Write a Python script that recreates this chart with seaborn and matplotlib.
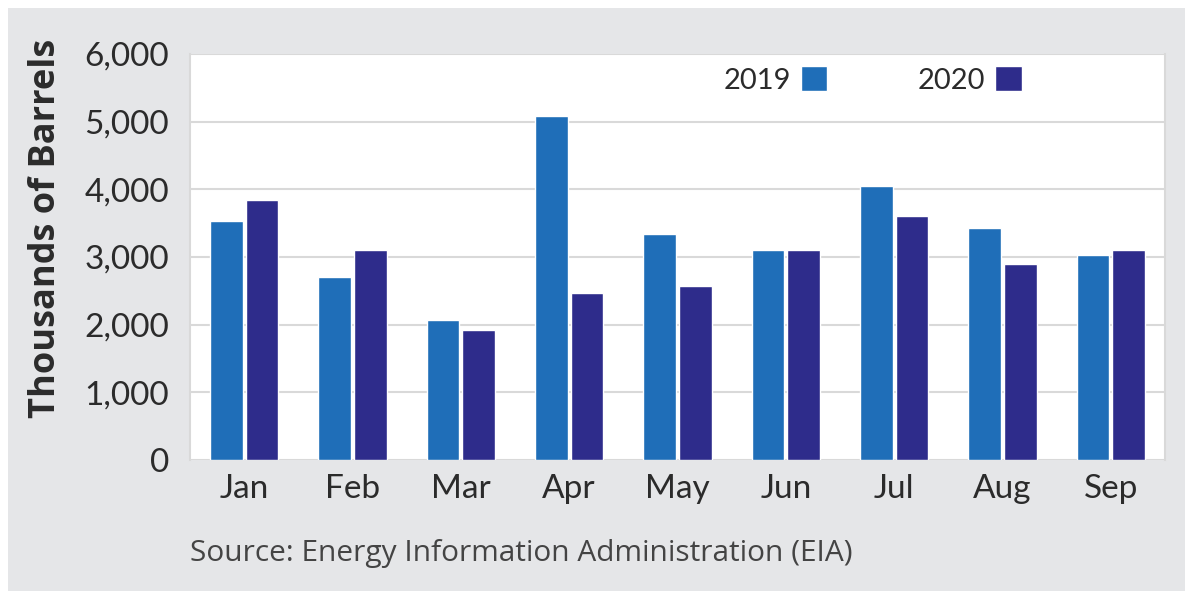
import numpy as np
import pandas as pd
import seaborn as sns
import matplotlib.pyplot as plt
from matplotlib.patches import Rectangle
from matplotlib.ticker import FuncFormatter

# Data (thousands of barrels)
months = ['Jan', 'Feb', 'Mar', 'Apr', 'May', 'Jun', 'Jul', 'Aug', 'Sep']
years = ['2019', '2020']
values_2019 = [3530, 2700, 2070, 5080, 3345, 3110, 4055, 3435, 3030]
values_2020 = [3840, 3110, 1920, 2465, 2565, 3110, 3600, 2890, 3110]
colors = ['#1f6eb8', '#2e2c8b']

df = pd.DataFrame({
    'Month': months * 2,
    'Year': ['2019'] * len(months) + ['2020'] * len(months),
    'Barrels': values_2019 + values_2020,
})

sns.set_theme(style='white')
plt.rcParams['font.family'] = ['Lato', 'DejaVu Sans']
text_color = '#2b2b2b'
grid_color = '#d9d9d9'
bg_gray = '#e5e6e8'

fig = plt.figure(figsize=(11.85, 5.91), dpi=100, facecolor='white')
# grey panel behind the chart, leaving a thin white margin top/left
fig.patches.append(Rectangle((8 / 1185, 0), 1 - 8 / 1185, 1 - 8 / 591,
                             transform=fig.transFigure, facecolor=bg_gray,
                             edgecolor='none', zorder=-10))

ax = fig.add_axes([190 / 1185, 1 - 460 / 591, 975 / 1185, 406 / 591])
ax.set_facecolor('white')

sns.barplot(data=df, x='Month', y='Barrels', hue='Year', hue_order=years,
            palette=colors, width=0.66, gap=0.08, saturation=1,
            order=months, ax=ax, legend=True)

ax.set_ylim(0, 6000)
ax.set_yticks(np.arange(0, 6001, 1000))
ax.yaxis.set_major_formatter(FuncFormatter(lambda v, p: f'{int(v):,}'))
ax.yaxis.grid(True, color=grid_color, linewidth=1.5)
ax.set_axisbelow(True)

for side in ['left', 'right']:
    ax.spines[side].set_color(grid_color)
    ax.spines[side].set_linewidth(1.5)
for side in ['top', 'bottom']:
    ax.spines[side].set_visible(False)

ax.tick_params(axis='y', length=9, width=1.5, color=grid_color,
               labelsize=24, labelcolor=text_color, pad=6)
ax.tick_params(axis='x', length=0, labelsize=24, labelcolor=text_color, pad=10)
ax.set_xlabel('')
ax.set_ylabel('Thousands of Barrels', fontsize=26, fontweight='bold',
              color=text_color, family=['Open Sans', 'DejaVu Sans'])
ax.yaxis.set_label_coords(-0.129, 0.57)

ax.legend(loc='center right', bbox_to_anchor=(0.853, 0.936), ncol=2,
          frameon=False, markerfirst=False, fontsize=21,
          borderpad=0, borderaxespad=0,
          handlelength=0.9, handleheight=0.9, handletextpad=0.35,
          columnspacing=3.1, labelcolor=text_color)

fig.text(190 / 1185, 1 - 561 / 591, 'Source: Energy Information Administration (EIA)',
         fontsize=21.5, color='#444444', ha='left', va='baseline',
         family=['Open Sans', 'DejaVu Sans'])

fig.savefig('out.png', dpi=100, facecolor=fig.get_facecolor())
